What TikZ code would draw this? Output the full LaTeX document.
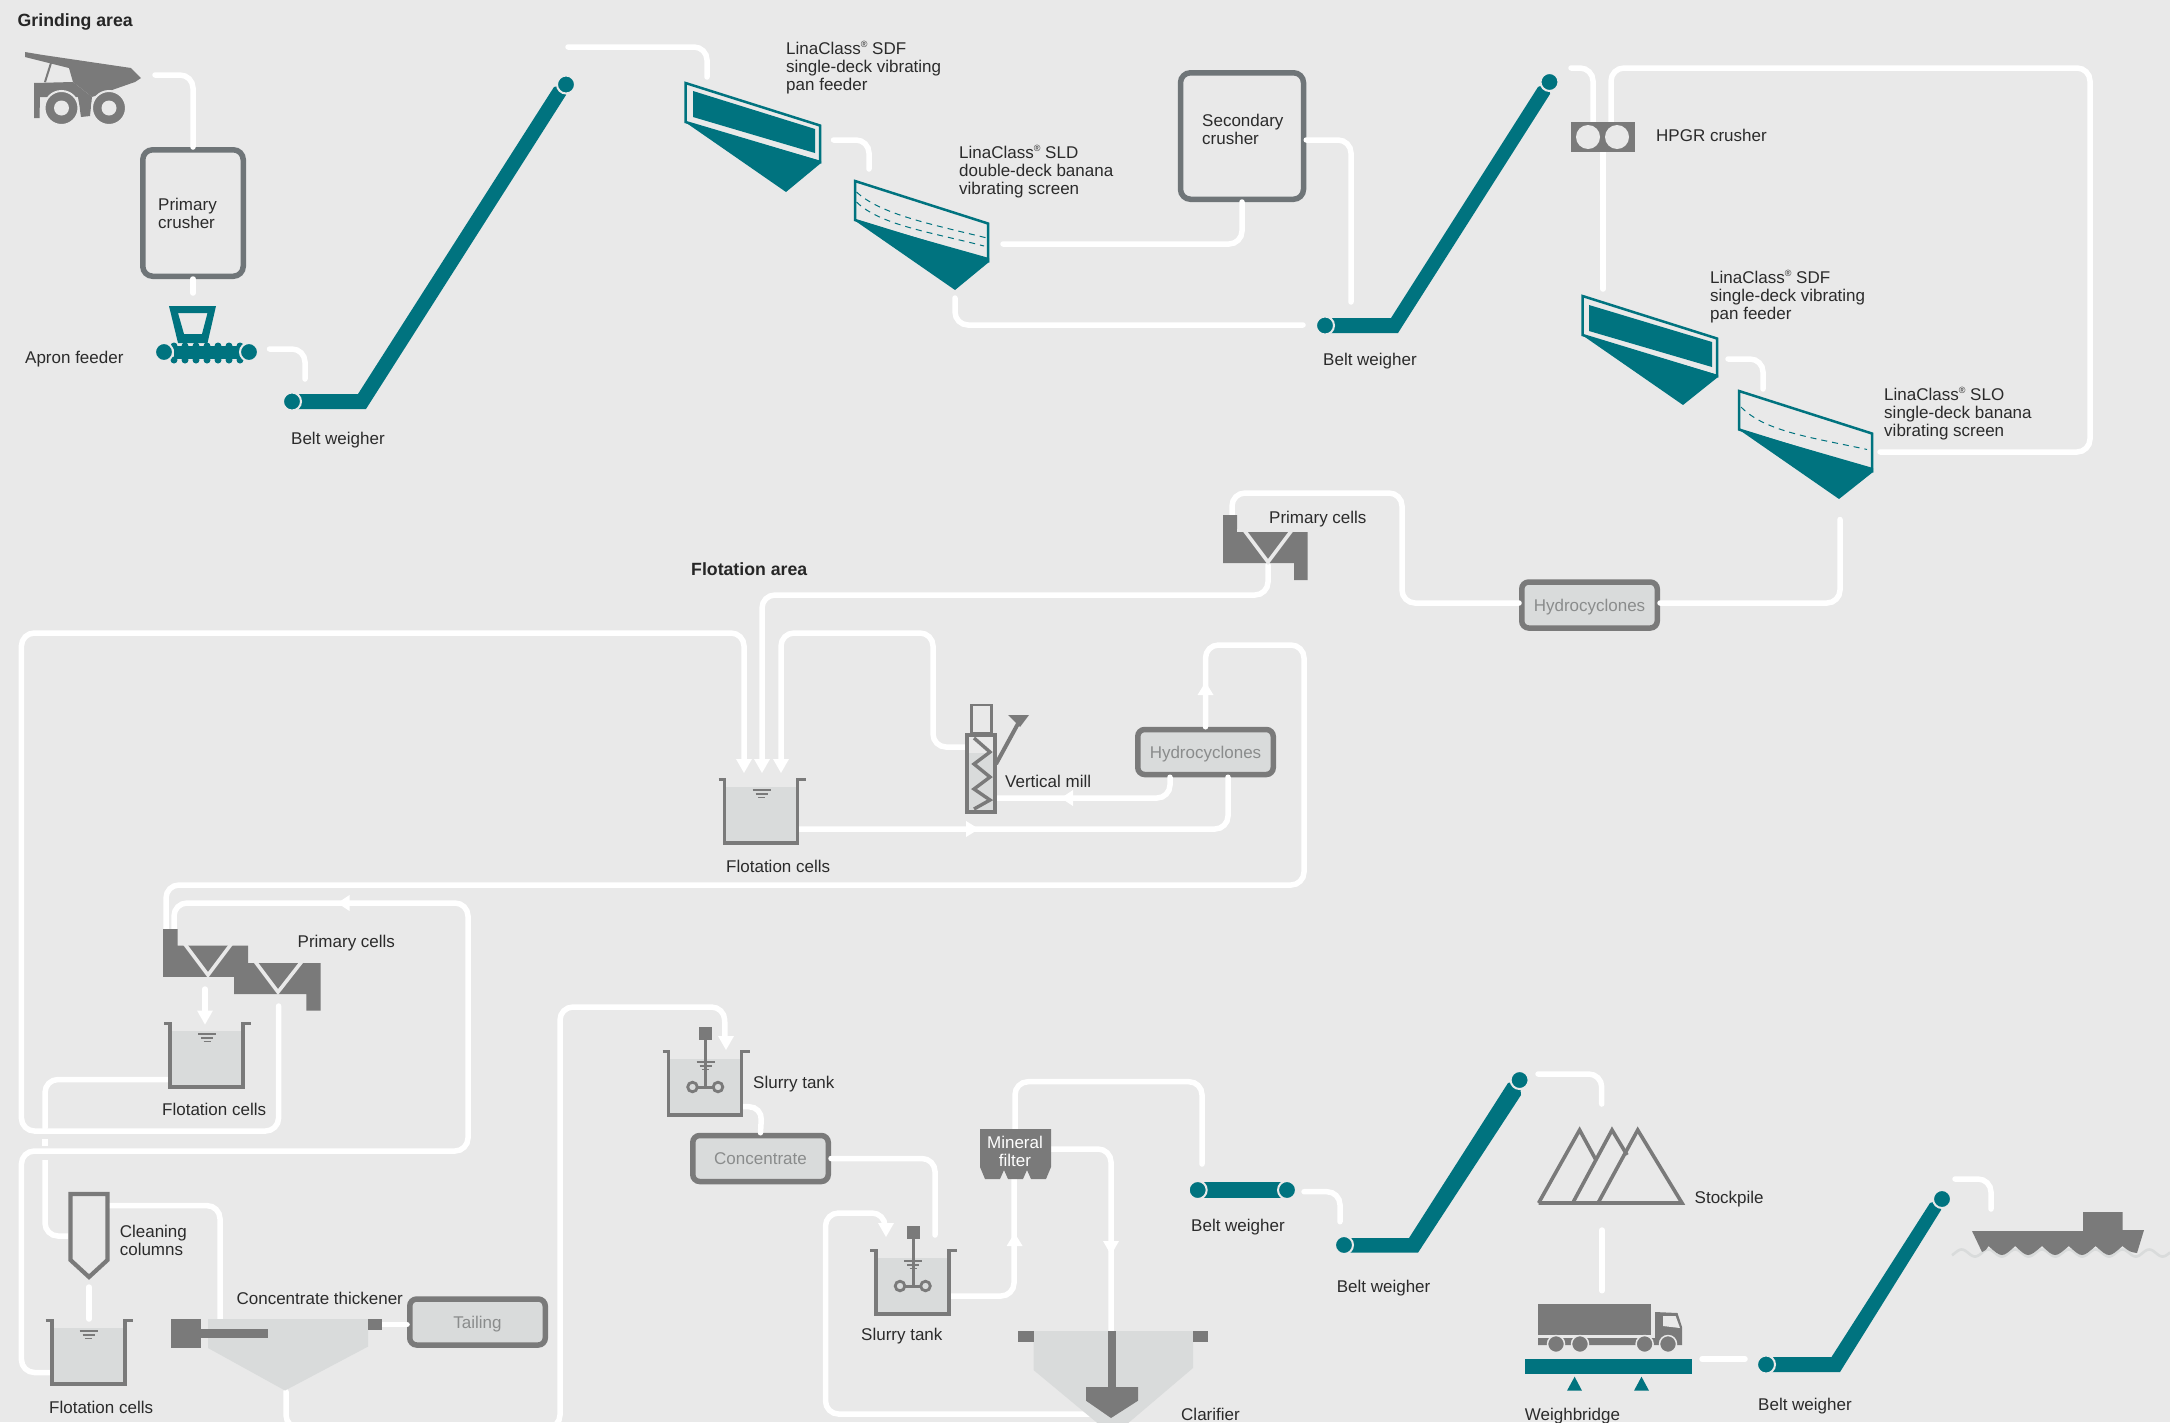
\documentclass[tikz,border=0pt]{standalone}
\usepackage{fontspec}
\setmainfont{Liberation Sans}
\definecolor{bgc}{HTML}{E9E9E9}
\definecolor{teal1}{HTML}{00737F}
\definecolor{gray1}{HTML}{7A7A7A}
\definecolor{gray2}{HTML}{6F7578}
\definecolor{fillc}{HTML}{D9DBDB}
\definecolor{txt}{HTML}{2B2B2B}
\definecolor{txtb}{HTML}{8A8C8C}
\newcommand{\regmark}{\raisebox{0.42em}{\fontsize{9}{9}\selectfont ®}}
\tikzset{
 flow/.style={draw=white,line width=5.5pt,line cap=round,rounded corners=13pt},
 lbl/.style={anchor=west,inner sep=0pt,align=left,text=txt,yshift=-1.5pt,font=\fontsize{17}{18}\selectfont},
 head/.style={anchor=west,inner sep=0pt,text=black!85,yshift=-1pt,font=\fontsize{17.7}{18}\selectfont\bfseries},
 crusher/.style={draw=gray2,line width=5.5pt,rounded corners=10pt,inner sep=0pt},
 unitbox/.style={draw=gray1,line width=5.5pt,rounded corners=7pt,fill=fillc,inner sep=0pt,text=txtb,text height=15pt,text depth=3pt,font=\fontsize{17}{18}\selectfont},
 roller/.style={circle,fill=teal1,draw=bgc,line width=2pt,minimum size=18pt,inner sep=0pt},
 tealo/.style={draw=teal1,line width=2.5pt,fill=none,line join=miter},
 gap/.style={draw=bgc,line width=3.6pt,fill=none,line join=miter},
}
\newcommand{\tipd}[2]{\fill[white] (#1-8,#2-14)--(#1+8,#2-14)--(#1,#2)--cycle;}
\newcommand{\tipu}[2]{\fill[white] (#1-8,#2+13)--(#1+8,#2+13)--(#1,#2)--cycle;}
\newcommand{\tipl}[2]{\fill[white] (#1+12,#2-8)--(#1+12,#2+8)--(#1,#2)--cycle;}
\newcommand{\tipr}[2]{\fill[white] (#1-13,#2-8)--(#1-13,#2+8)--(#1,#2)--cycle;}
\newcommand{\cellbody}[2]{%
 \fill[fillc] (#1+6,#2+9) rectangle (#1+79,#2+66);
 \draw[draw=gray1,line width=3.8pt,line join=miter] (#1,#2+1.5)--(#1+6,#2+1.5)--(#1+6,#2+65)--(#1+79,#2+65)--(#1+79,#2+1.5)--(#1+87,#2+1.5);
}
\newcommand{\waterlines}[2]{%
 \draw[gray1,line width=1.4pt] (#1+34,#2+12)--(#1+52,#2+12) (#1+37,#2+16)--(#1+49,#2+16) (#1+39.5,#2+19.5)--(#1+46.5,#2+19.5);
}
\newcommand{\agitator}[2]{%
 \fill[gray1] (#1+36.5,#2-23) rectangle (#1+49.5,#2-10);
 \draw[gray1,line width=3pt] (#1+43,#2-10)--(#1+43,#2+37) (#1+30,#2+37)--(#1+56,#2+37);
 \draw[gray1,line width=2.8pt,fill=fillc] (#1+30,#2+37) circle (4.8) (#1+55.5,#2+37) circle (4.8);
}
\begin{document}
\begin{tikzpicture}[x=1pt,y=-1pt]
\useasboundingbox (0,0) rectangle (2170,1422);
\clip (0,0) rectangle (2170,1422);
\fill[bgc] (0,0) rectangle (2170,1422);

% boxes (nodes that connectors refer to)
\node[crusher,minimum width=100.5pt,minimum height=126.5pt] (pcrush) at (193,213) {};
\node[crusher,minimum width=123pt,minimum height=126.5pt] (scrush) at (1242,136) {};
\node[unitbox,minimum width=135.5pt,minimum height=46pt] (hyd1) at (1589.5,605) {Hydrocyclones};
\node[unitbox,minimum width=135.5pt,minimum height=45pt] (hyd2) at (1205.5,752) {Hydrocyclones};
\node[unitbox,minimum width=135.5pt,minimum height=46pt] (conc) at (760.5,1158.5) {Concentrate};
\node[unitbox,minimum width=135.5pt,minimum height=46pt] (tail) at (477.5,1322) {Tailing};

% rollers and free ends
\coordinate (truckout) at (155,75);
\coordinate (apronin) at (193,293);
\coordinate (apronout) at (269.5,349);
\coordinate (bw1in) at (305,379);
\coordinate (top1) at (568,47);
\coordinate (pan1in) at (707,77);
\coordinate (pan1out) at (833.5,140);
\coordinate (scr1in) at (869,169);
\coordinate (scr1over) at (1003,244);
\coordinate (scr1under) at (955,298);
\coordinate (bw2a) at (1351,302);
\coordinate (bw2b) at (1303,325);
\coordinate (top2) at (1571,68);
\coordinate (hpgrL) at (1593,122);
\coordinate (hpgrR) at (1611,122);
\coordinate (hpgrO) at (1603,152);
\coordinate (pan2in) at (1603,289);
\coordinate (pan2out) at (1728,359);
\coordinate (scr2in) at (1763,389);
\coordinate (scr2over) at (1880,452);
\coordinate (scr2under) at (1840,519.5);
\coordinate (prim1in) at (1232,515);
\coordinate (prim1out) at (1268,565);
\coordinate (fc1a) at (744,760);
\coordinate (fc1b) at (762,760);
\coordinate (fc1c) at (781,760);
\coordinate (millin) at (965,747);
\coordinate (millout) at (996,798);
\coordinate (fc1out) at (799,829);
\coordinate (prim2a) at (166,929);
\coordinate (prim2b) at (174,929);
\coordinate (prim2d) at (278.6,1006);
\coordinate (prim2e) at (205,989);
\coordinate (fc2in) at (205,1011);
\coordinate (fc2out) at (168,1079.5);
\coordinate (colin) at (68,1236);
\coordinate (colout) at (109,1205.6);
\coordinate (colb) at (89,1287);
\coordinate (fc3in) at (89,1319);
\coordinate (fc3out) at (50,1372.5);
\coordinate (thin) at (220,1319);
\coordinate (thtail) at (382,1324.5);
\coordinate (thbot) at (286,1391.6);
\coordinate (st1in) at (725,1038);
\coordinate (st1out) at (743,1106.7);
\coordinate (st2a) at (935,1235);
\coordinate (st2b) at (885,1225);
\coordinate (st2out) at (950,1296);
\coordinate (claout) at (1092,1414);
\coordinate (filb) at (1014,1178.7);
\coordinate (filt) at (1015,1129);
\coordinate (filr) at (1051,1149);
\coordinate (clain) at (1111,1331.7);
\coordinate (bw3in) at (1202,1164);
\coordinate (bw3out) at (1304,1191.7);
\coordinate (bw4in) at (1340,1221.7);
\coordinate (top4) at (1538,1074);
\coordinate (stockin) at (1601.7,1104);
\coordinate (stockout) at (1602,1230);
\coordinate (truckin) at (1602,1290.7);
\coordinate (wbout) at (1702,1359);
\coordinate (wbin) at (1745,1359);
\coordinate (top5) at (1955,1179);
\coordinate (shipin) at (1991,1209);

% flows
\draw[flow] (truckout) -- (193,75) -- (pcrush.north);
\draw[flow] (pcrush.south) -- (apronin);
\draw[flow] (apronout) -- (305,349) -- (bw1in);
\draw[flow] (top1) -- (707,47) -- (pan1in);
\draw[flow] (pan1out) -- (869,140) -- (scr1in);
\draw[flow] (scr1over) -- (1242,244) -- (scrush.south);
\draw[flow] (scr1under) -- (955,325) -- (bw2b);
\draw[flow] (scrush.east |- 0,140) -- (1351,140) -- (bw2a);
\draw[flow] (top2) -- (1593,68) -- (hpgrL);
\draw[flow] (hpgrR) -- (1611,68) -- (2090,68) -- (2090,452) -- (scr2over);
\draw[flow] (hpgrO) -- (pan2in);
\draw[flow] (pan2out) -- (1763,359) -- (scr2in);
\draw[flow] (scr2under) -- (1840,603) -- (hyd1.east |- 0,603);
\draw[flow] (hyd1.west |- 0,603) -- (1402,603) -- (1402,493) -- (1232,493) -- (prim1in);
\draw[flow] (prim1out) -- (1268,595) -- (762,595) -- (fc1b);
\draw[flow] (prim2d) -- (278.6,1131) -- (21.4,1131) -- (21.4,633) -- (744,633) -- (fc1a);
\draw[flow] (millin) -- (933,747) -- (933,633) -- (781,633) -- (fc1c);
\draw[flow] (millout) -- (1170,798) -- (hyd2.south -| 1170,0);
\draw[flow] (fc1out) -- (1228,829) -- (hyd2.south -| 1228,0);
\draw[flow] (hyd2.north) -- (1205.5,645) -- (1304,645) -- (1304,885) -- (166,885) -- (prim2a);
\draw[flow] (prim2b) -- (174,903) -- (468,903) -- (468,1151) -- (21.4,1151) -- (21.4,1372.5) -- (fc3out);
\draw[flow] (prim2e) -- (fc2in);
\draw[flow] (fc2out) -- (45,1079.5) -- (45,1128);
\draw[flow,line cap=butt] (45,1139) -- (45,1146);
\draw[flow,line cap=butt] (45,1160) -- (45,1236) -- (colin);
\draw[flow] (colout) -- (220,1205.6) -- (thin);
\draw[flow] (colb) -- (fc3in);
\draw[flow] (thtail) -- (tail.west |- 0,1324.5);
\draw[flow] (thbot) -- (286,1428) -- (560,1428) -- (560,1007) -- (724.5,1007) -- (st1in);
\draw[flow] (st1out) -- (762,1106.7) -- (conc.north);
\draw[flow] (conc.east) -- (935,1158.5) -- (st2a);
\draw[flow] (claout) -- (825.5,1414) -- (825.5,1213) -- (885,1213) -- (st2b);
\draw[flow] (st2out) -- (1014,1296) -- (filb);
\draw[flow] (filt) -- (1015,1081.7) -- (1202,1081.7) -- (bw3in);
\draw[flow] (filr) -- (1111,1149) -- (clain);
\draw[flow] (bw3out) -- (1340,1191.7) -- (bw4in);
\draw[flow] (top4) -- (1601.7,1074) -- (stockin);
\draw[flow] (stockout) -- (truckin);
\draw[flow] (wbout) -- (wbin);
\draw[flow] (top5) -- (1991,1179) -- (shipin);

% arrow heads
\tipd{744}{773}\tipd{762}{773}\tipd{781}{773}
\tipd{205}{1024.5}\tipd{726}{1050}\tipd{886}{1237}\tipd{1111}{1255}
\tipu{1205.5}{682}\tipu{1014.6}{1233}
\tipl{1061}{798}\tipl{337.5}{903}
\tipr{979}{829}

% truck
\fill[gray1] (25,52)--(43,55)--(131,68)--(141,78)--(135,82)--(92,97)--(73,82)--(69,68)--(25,57)--cycle;
\draw[gray1,line width=2pt] (51,63)--(45,82);
\fill[gray1] (34,83)--(73,82)--(92,97)--(90,116)--(81,117)--(78,97)--(40,97)--(39.5,118)--(34,118)--cycle;
\foreach \wx in {61.5,109}{
 \draw[bgc,line width=2pt,fill=gray1] (\wx,108) circle (17);
 \fill[bgc] (\wx,108) circle (7.5);
}

% apron feeder
\fill[teal1,even odd rule] (169,306)--(216,306)--(207.5,343)--(178,343)--cycle (178,313)--(207.5,313)--(202,334)--(184,334)--cycle;
\fill[teal1] (173.5,346) rectangle (241,359);
\foreach \bx in {174,185,196,207,218,229,240}{
 \fill[teal1] (\bx,346) circle (3.5) (\bx,360) circle (3.5);
}
\node[roller] (apL) at (164,352) {};
\node[roller] (apR) at (249,352) {};

% conveyors
\fill[teal1] (292,394)--(358,394)--(554,87)--(566,84.5)--(566,95)--(366,409)--(292,409)--cycle;
\node[roller] (bw1a) at (292,401.5) {};
\node[roller] (bw1b) at (566,84.5) {};
\fill[teal1] (1325,318)--(1391,318)--(1538,87)--(1549.5,82)--(1550,94)--(1398,333)--(1325,333)--cycle;
\node[roller] (bw2l) at (1325,325.5) {};
\node[roller] (bw2r) at (1549.5,82) {};
\fill[teal1] (1197.7,1182)--(1287,1182)--(1287,1198)--(1197.7,1198)--cycle;
\node[roller] (bw3l) at (1197.7,1190) {};
\node[roller] (bw3r) at (1287,1190) {};
\fill[teal1] (1344,1238)--(1409,1238)--(1508,1083)--(1519.6,1080)--(1521,1095)--(1418,1252.7)--(1344,1252.7)--cycle;
\node[roller] (bw4l) at (1344,1245) {};
\node[roller] (bw4r) at (1519.6,1080) {};
\fill[teal1] (1766,1357)--(1831.5,1357)--(1930,1203)--(1942,1199)--(1941,1210)--(1840,1372)--(1766,1372)--cycle;
\node[roller] (bw5l) at (1766,1364.5) {};
\node[roller] (bw5r) at (1942,1199) {};

% pan feeder 1
\draw[tealo] (685.5,83)--(820,125.5)--(820,162)--(685.5,122)--cycle;
\fill[teal1] (693,91)--(815,129)--(815,153)--(693,117)--cycle;
\fill[teal1] (685,122)--(821,161)--(821,163)--(786,192)--cycle;
% screen 1
\draw[tealo] (855,181)--(988,223.5)--(988,261)--(855,220)--cycle;
\fill[teal1] (854,220)--(989,258)--(989,262)--(955,290)--cycle;
\draw[teal1,line width=1pt,dashed,dash pattern=on 6pt off 5pt] (856.5,192) .. controls (880,214) and (930,224) .. (987,238);
\draw[teal1,line width=1pt,dashed,dash pattern=on 6pt off 5pt] (856.5,202) .. controls (880,225) and (930,232) .. (984,246);
% pan feeder 2
\draw[tealo] (1582.5,296)--(1717,338.5)--(1717,376)--(1582.5,335)--cycle;
\fill[teal1] (1589,305)--(1712,342)--(1712,367)--(1589,331)--cycle;
\fill[teal1] (1582,335)--(1718,375)--(1718,377)--(1683,405)--cycle;
% screen 2
\draw[tealo] (1739,391)--(1872,433.5)--(1872,471)--(1739,429.5)--cycle;
\fill[teal1] (1738,429)--(1873,468)--(1873,472)--(1839,499)--cycle;
\draw[teal1,line width=1pt,dashed,dash pattern=on 6pt off 5pt] (1741,407) .. controls (1765,432) and (1815,438) .. (1867,449.5);

% HPGR
\fill[gray1] (1571,122) rectangle (1635,152);
\fill[bgc] (1588,137) circle (12) (1617,137) circle (12);

% primary cells top
\fill[gray1] (1223,515)--(1237,515)--(1237,532)--(1307.5,532)--(1307.5,580)--(1294,580)--(1294,563)--(1223,563)--cycle;
\draw[gap] (1244,530)--(1268,562)--(1292,530);
\fill[bgc] (1237,529) rectangle (1243,532);

% primary cells lower
\fill[gray1] (163,929)--(177.5,929)--(177.5,945.7)--(248,945.7)--(248,963)--(320.7,963)--(320.7,1010.7)--(306.4,1010.7)--(306.4,994)--(234,994)--(234,976.8)--(163,976.8)--cycle;
\draw[gap] (184,943)--(208,975)--(232,943);
\draw[gap] (254,960)--(278,992)--(303,960);

% flotation cells
\cellbody{718.5}{778}\waterlines{718.5}{778}
\cellbody{164}{1022}\waterlines{164}{1022}
\cellbody{45.7}{1319}\waterlines{45.7}{1319}
% slurry tanks
\cellbody{662.5}{1050}\waterlines{662.5}{1050}\agitator{662.5}{1050}
\cellbody{870}{1249}\waterlines{870}{1249}\agitator{870}{1249}

% vertical mill
\fill[fillc] (965,753) rectangle (996,814);
\draw[gray1,line width=3.6pt] (967,735) rectangle (995,812);
\draw[gray1,line width=2.8pt] (971.5,705) rectangle (991.5,733);
\draw[gray1,line width=3.4pt] (974,738)--(990,752)--(974,764)--(990,777)--(974,789)--(990,800)--(974,809);
\draw[gray1,line width=4pt] (996,764)--(1020,720);
\fill[gray1] (1008,715)--(1029,715)--(1020,727)--cycle;

% cleaning column
\draw[gray1,line width=4.2pt,line join=miter] (70.5,1194)--(107.5,1194)--(107.5,1260)--(89,1277)--(70.5,1260)--cycle;

% thickener
\fill[fillc] (208,1319)--(368,1319)--(368,1346.6)--(285,1390.5)--(208,1348)--cycle;
\fill[gray1] (171.4,1319) rectangle (200.7,1347.7);
\fill[gray1] (200.7,1329) rectangle (268,1338);
\fill[gray1] (368,1319) rectangle (382,1330);

% mineral filter
\fill[gray1] (980,1129)--(1051,1129)--(1051,1167)--(1046,1179)--(1031,1179)--(1027,1170)--(1023,1179)--(1008,1179)--(1004,1170)--(1000,1179)--(985,1179)--(980,1167)--cycle;

% clarifier
\fill[fillc] (1033.5,1331)--(1193,1331)--(1193,1368)--(1113,1436)--(1033.5,1370)--cycle;
\fill[gray1] (1108,1331) rectangle (1115.6,1388);
\fill[gray1] (1086,1387)--(1138,1387)--(1138,1400.7)--(1111,1418)--(1086,1400.7)--cycle;
\fill[gray1] (1018.3,1331) rectangle (1033.5,1341.7);
\fill[gray1] (1193,1331) rectangle (1207.5,1341.7);

% stockpile
\draw[gray1,line width=3.6pt,line join=miter] (1538.6,1203)--(1682,1203)--(1637.7,1130)--(1598,1203);
\draw[gray1,line width=3.6pt,line join=miter] (1538.6,1203)--(1579.6,1130)--(1595.4,1159);
\draw[gray1,line width=3.6pt,line join=miter] (1572.7,1203)--(1612,1130)--(1627,1155);

% lorry
\fill[gray1] (1538,1304) rectangle (1651,1335);
\fill[gray1] (1538,1338)--(1655,1338)--(1655,1312)--(1677.5,1313)--(1682,1327)--(1682,1345)--(1538,1345)--cycle;
\fill[bgc] (1663,1316)--(1675.6,1316)--(1680,1328)--(1663,1326)--cycle;
\foreach \wx in {1556,1580,1644.6,1668}{
 \draw[bgc,line width=1.5pt,fill=gray1] (\wx,1344) circle (8.5);
}
% weighbridge
\fill[teal1] (1524.7,1359) rectangle (1692,1374);
\fill[teal1] (1567,1390.7)--(1582,1390.7)--(1574.6,1376.7)--cycle;
\fill[teal1] (1634,1390.7)--(1649,1390.7)--(1641.5,1376.7)--cycle;

% ship
\draw[fillc,line width=2.6pt] plot[domain=1952:2170,samples=240] (\x,{1253-3.5*cos((\x-1961.6)/26.8*360)});
\fill[gray1] (1972,1231)--(2083,1231)--(2083,1212)--(2122.6,1212)--(2122.6,1230)--(2144,1230)--(2137,1253)
 .. controls (2130,1252) .. (2122.4,1246)
 .. controls (2109,1258) .. (2095.6,1246)
 .. controls (2082,1258) .. (2068.8,1246)
 .. controls (2055,1258) .. (2042,1246)
 .. controls (2028,1258) .. (2015.2,1246)
 .. controls (2002,1258) .. (1988.4,1246)
 .. controls (1986,1250) .. (1982,1252)--cycle;

% labels
\node[head] (gh) at (17.5,20.5) {Grinding area};
\node[head] (fh) at (691,568) {Flotation area};
\node[lbl] (l01) at (158,212) {Primary\\crusher};
\node[lbl] (l02) at (25,358) {Apron feeder};
\node[lbl] (l03) at (291,439) {Belt weigher};
\node[lbl] (l04) at (786,66) {LinaClass\regmark{} SDF\\single-deck vibrating\\pan feeder};
\node[lbl] (l05) at (959,170) {LinaClass\regmark{} SLD\\double-deck banana\\vibrating screen};
\node[lbl] (l06) at (1202,128) {Secondary\\crusher};
\node[lbl] (l07) at (1323,360) {Belt weigher};
\node[lbl] (l08) at (1656,134) {HPGR crusher};
\node[lbl] (l09) at (1710,295) {LinaClass\regmark{} SDF\\single-deck vibrating\\pan feeder};
\node[lbl] (l10) at (1884,412) {LinaClass\regmark{} SLO\\single-deck banana\\vibrating screen};
\node[lbl] (l11) at (1269,518) {Primary cells};
\node[lbl] (l12) at (1005,780) {Vertical mill};
\node[lbl] (l13) at (726,865) {Flotation cells};
\node[lbl] (l14) at (297.5,941.5) {Primary cells};
\node[lbl] (l15) at (162,1108) {Flotation cells};
\node[lbl] (l16) at (119.6,1239) {Cleaning\\columns};
\node[lbl] (l17) at (49,1406) {Flotation cells};
\node[lbl] (l18) at (236.4,1296.5) {Concentrate thickener};
\node[lbl] (l19) at (753,1082.5) {Slurry tank};
\node[lbl] (l20) at (861,1335) {Slurry tank};
\node[lbl,text=white,align=center,anchor=center] (l21) at (1015,1149.5) {Mineral\\filter};
\node[lbl] (l22) at (1181,1413) {Clarifier};
\node[lbl] (l23) at (1191,1226) {Belt weigher};
\node[lbl] (l24) at (1336.6,1287) {Belt weigher};
\node[lbl] (l25) at (1694.5,1198) {Stockpile};
\node[lbl] (l26) at (1524.7,1415) {Weighbridge};
\node[lbl] (l27) at (1758,1404.5) {Belt weigher};
\end{tikzpicture}
\end{document}
